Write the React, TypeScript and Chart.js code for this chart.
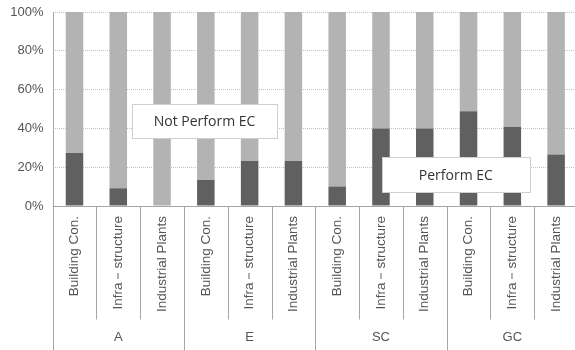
import React, { useEffect, useRef } from "react";
import { Chart, registerables } from "chart.js";

Chart.register(...registerables);

// Sector labels repeated under each contractor group
const categories = [
  "Building Con.", "Infra－structure", "Industrial Plants",
  "Building Con.", "Infra－structure", "Industrial Plants",
  "Building Con.", "Infra－structure", "Industrial Plants",
  "Building Con.", "Infra－structure", "Industrial Plants",
];
const groups = ["A", "E", "SC", "GC"];
const groupSize = 3;

// Share of respondents (%)
const performEC = [27.3, 9.1, 0, 13.4, 23.2, 23.2, 10, 40, 40, 48.8, 40.7, 26.5];
const notPerformEC = [72.7, 90.9, 100, 86.6, 76.8, 76.8, 90, 60, 60, 51.2, 59.3, 73.5];

const yTicks = [0, 20, 40, 60, 80, 100];

// Boxed series labels: [text, category position, value position, box width, box height]
const seriesLabels: [string, number, number, number, number][] = [
  ["Not Perform EC", 2.97, 43.8, 145, 34],
  ["Perform EC", 8.71, 16.2, 148, 35],
];

const FONT = "'Liberation Sans', Arial, sans-serif";
const LINE = "#a6a6a6";

const frame = {
  id: "frame",
  afterDatasetsDraw(chart: any) {
    const { ctx, chartArea, scales } = chart;
    const x = scales.x;
    const y = scales.y;
    const bottom = chart.height;
    const step = x.getPixelForValue(1) - x.getPixelForValue(0);
    ctx.save();
    ctx.strokeStyle = LINE;
    ctx.lineWidth = 1;
    // value axis line, running down through the category band
    ctx.beginPath();
    ctx.moveTo(Math.round(chartArea.left) + 0.5, chartArea.top);
    ctx.lineTo(Math.round(chartArea.left) + 0.5, bottom);
    ctx.stroke();
    // category axis line
    const y0 = Math.round(y.getPixelForValue(0)) + 0.5;
    ctx.beginPath();
    ctx.moveTo(chartArea.left, y0);
    ctx.lineTo(chartArea.right, y0);
    ctx.stroke();
    // separators between sectors and between groups
    for (let i = 1; i < categories.length; i++) {
      const px = Math.round(x.getPixelForValue(i) - step / 2) + 0.5;
      const end = i % groupSize === 0 ? bottom : y0 + 113;
      ctx.beginPath();
      ctx.moveTo(px, y0);
      ctx.lineTo(px, end);
      ctx.stroke();
    }
    // group names
    ctx.fillStyle = "#555";
    ctx.font = `13px ${FONT}`;
    ctx.textAlign = "center";
    ctx.textBaseline = "middle";
    groups.forEach((g, gi) => {
      const cx = x.getPixelForValue(gi * groupSize + (groupSize - 1) / 2);
      ctx.fillText(g, cx, y0 + 131);
    });
    // boxed series labels
    ctx.font = "14px 'Open Sans', 'Noto Sans', sans-serif";
    seriesLabels.forEach(([text, cv, vv, w, h]) => {
      const cx = x.getPixelForValue(cv);
      const cy = y.getPixelForValue(vv);
      const bx = Math.round(cx - w / 2) + 0.5;
      const by = Math.round(cy - h / 2) + 0.5;
      ctx.fillStyle = "#ffffff";
      ctx.fillRect(bx, by, w, h);
      ctx.strokeStyle = "#cfcfcf";
      ctx.strokeRect(bx, by, w, h);
      ctx.fillStyle = "#333";
      ctx.fillText(text, cx, cy + 1);
    });
    ctx.restore();
  },
};

export default function App() {
  const ref = useRef<HTMLCanvasElement>(null);

  useEffect(() => {
    document.body.style.margin = "0";
    document.body.style.overflow = "hidden";
    const chart = new Chart(ref.current!, {
      type: "bar",
      data: {
        labels: categories,
        datasets: [
          {
            label: "Perform EC",
            data: performEC,
            backgroundColor: "#606060",
            borderWidth: 0,
            barPercentage: 0.4,
            categoryPercentage: 1,
          },
          {
            label: "Not Perform EC",
            data: notPerformEC,
            backgroundColor: "#b3b3b3",
            borderWidth: 0,
            barPercentage: 0.4,
            categoryPercentage: 1,
          },
        ],
      },
      options: {
        responsive: false,
        animation: false,
        layout: { padding: { top: 12, right: 2, left: 0, bottom: 0 } },
        plugins: {
          legend: { display: false },
          tooltip: { enabled: false },
        },
        scales: {
          x: {
            stacked: true,
            grid: { display: false, drawTicks: false },
            border: { display: false },
            ticks: {
              autoSkip: false,
              maxRotation: 90,
              minRotation: 90,
              padding: 10,
              color: "#555",
              font: { family: FONT, size: 13.5 },
            },
            afterFit(scale: any) {
              scale.height = 144;
              scale.paddingLeft = 0;
              scale.paddingRight = 0;
            },
          },
          y: {
            stacked: true,
            min: 0,
            max: 100,
            afterBuildTicks(scale: any) {
              scale.ticks = yTicks.map((v) => ({ value: v }));
            },
            grid: {
              drawTicks: false,
              color: (c: any) => (c.tick && c.tick.value === 0 ? "rgba(0,0,0,0)" : "#c4c4c4"),
            },
            border: { display: false, dash: [1, 1] },
            ticks: {
              padding: 9,
              color: "#555",
              font: { family: FONT, size: 13 },
              callback: (v: any) => `${v}%`,
            },
            afterFit(scale: any) {
              scale.width = 52.6;
              scale.paddingTop = 0;
              scale.paddingBottom = 0;
            },
          },
        },
      },
      plugins: [frame],
    });
    return () => chart.destroy();
  }, []);

  return (
    <div style={{ width: 580, height: 350 }}>
      <canvas ref={ref} width={580} height={350} />
    </div>
  );
}
